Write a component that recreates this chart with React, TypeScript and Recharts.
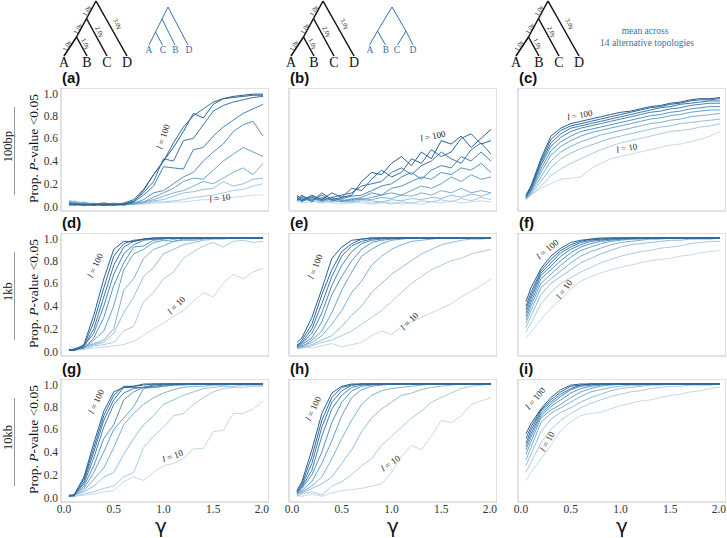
import { LineChart, Line, XAxis, YAxis, ReferenceArea } from "recharts";

// gamma grid shared by every panel
const gamma = [0.05, 0.1, 0.2, 0.3, 0.4, 0.5, 0.6, 0.7, 0.8, 0.9, 1.0, 1.1, 1.2, 1.3, 1.4, 1.5, 1.6, 1.7, 1.8, 1.9, 2.0];
const lengths = [10, 20, 30, 40, 50, 60, 70, 80, 90, 100];
const colors = ["#c3dbee", "#abcce5", "#94bedc", "#7eb0d3", "#69a1ca", "#5692c0", "#4683b6", "#3a76aa", "#316b9e", "#2a5f90"];
const yTicks = [0, 0.2, 0.4, 0.6, 0.8, 1.0];
const xTicks = [0, 0.5, 1.0, 1.5, 2.0];
const rowNames = ["100bp", "1kb", "10kb"];

// rows below: l = 10 ... l = 100
const bp100Fixed = [
  [0.06, 0.04, 0.03, 0.02, 0.02, 0.01, 0.01, 0.02, 0.02, 0.03, 0.03, 0.04, 0.04, 0.05, 0.06, 0.06, 0.07, 0.08, 0.09, 0.10, 0.10],
  [0.03, 0.05, 0.03, 0.02, 0.02, 0.01, 0.02, 0.02, 0.03, 0.04, 0.04, 0.05, 0.06, 0.08, 0.09, 0.10, 0.12, 0.14, 0.15, 0.18, 0.20],
  [0.04, 0.02, 0.04, 0.02, 0.01, 0.01, 0.02, 0.02, 0.03, 0.05, 0.06, 0.09, 0.12, 0.13, 0.15, 0.16, 0.22, 0.18, 0.20, 0.24, 0.25],
  [0.05, 0.03, 0.02, 0.03, 0.01, 0.02, 0.02, 0.03, 0.04, 0.06, 0.09, 0.12, 0.14, 0.18, 0.22, 0.20, 0.25, 0.30, 0.34, 0.28, 0.38],
  [0.03, 0.04, 0.02, 0.01, 0.02, 0.03, 0.02, 0.02, 0.04, 0.08, 0.12, 0.16, 0.22, 0.25, 0.24, 0.32, 0.40, 0.46, 0.52, 0.48, 0.44],
  [0.04, 0.02, 0.03, 0.02, 0.01, 0.02, 0.01, 0.03, 0.06, 0.12, 0.14, 0.20, 0.26, 0.30, 0.40, 0.48, 0.55, 0.66, 0.72, 0.75, 0.62],
  [0.02, 0.03, 0.02, 0.01, 0.03, 0.01, 0.02, 0.04, 0.10, 0.18, 0.35, 0.34, 0.33, 0.50, 0.52, 0.62, 0.70, 0.76, 0.82, 0.86, 0.90],
  [0.03, 0.02, 0.01, 0.02, 0.03, 0.02, 0.02, 0.05, 0.12, 0.22, 0.42, 0.40, 0.58, 0.60, 0.72, 0.84, 0.89, 0.92, 0.94, 0.96, 0.97],
  [0.02, 0.01, 0.02, 0.01, 0.02, 0.01, 0.03, 0.06, 0.15, 0.28, 0.40, 0.56, 0.70, 0.80, 0.86, 0.92, 0.95, 0.96, 0.97, 0.98, 0.98],
  [0.01, 0.02, 0.01, 0.02, 0.01, 0.02, 0.02, 0.04, 0.14, 0.28, 0.40, 0.52, 0.66, 0.82, 0.78, 0.90, 0.95, 0.97, 0.98, 0.99, 0.99],
];
const bp100Alt = [
  [0.05, 0.03, 0.04, 0.05, 0.03, 0.02, 0.04, 0.03, 0.02, 0.03, 0.04, 0.02, 0.03, 0.02, 0.04, 0.03, 0.05, 0.03, 0.04, 0.05, 0.04],
  [0.04, 0.06, 0.05, 0.03, 0.05, 0.04, 0.03, 0.05, 0.03, 0.04, 0.02, 0.04, 0.03, 0.05, 0.04, 0.06, 0.04, 0.07, 0.05, 0.08, 0.06],
  [0.08, 0.05, 0.06, 0.07, 0.04, 0.05, 0.04, 0.06, 0.05, 0.04, 0.06, 0.05, 0.07, 0.06, 0.08, 0.07, 0.10, 0.08, 0.11, 0.09, 0.12],
  [0.06, 0.09, 0.07, 0.04, 0.07, 0.06, 0.05, 0.07, 0.06, 0.08, 0.07, 0.10, 0.09, 0.12, 0.10, 0.14, 0.12, 0.16, 0.12, 0.14, 0.12],
  [0.09, 0.07, 0.05, 0.08, 0.06, 0.04, 0.07, 0.06, 0.08, 0.10, 0.12, 0.10, 0.14, 0.18, 0.16, 0.20, 0.26, 0.22, 0.28, 0.24, 0.26],
  [0.07, 0.04, 0.09, 0.06, 0.08, 0.05, 0.06, 0.08, 0.12, 0.10, 0.16, 0.18, 0.22, 0.26, 0.24, 0.30, 0.28, 0.34, 0.32, 0.38, 0.30],
  [0.05, 0.08, 0.06, 0.10, 0.05, 0.07, 0.09, 0.10, 0.14, 0.18, 0.20, 0.26, 0.30, 0.24, 0.32, 0.36, 0.34, 0.44, 0.40, 0.48, 0.40],
  [0.10, 0.06, 0.08, 0.05, 0.08, 0.10, 0.12, 0.18, 0.20, 0.22, 0.30, 0.34, 0.28, 0.36, 0.40, 0.48, 0.42, 0.38, 0.50, 0.56, 0.46],
  [0.06, 0.10, 0.04, 0.12, 0.06, 0.08, 0.16, 0.14, 0.24, 0.32, 0.26, 0.30, 0.42, 0.38, 0.50, 0.44, 0.48, 0.60, 0.64, 0.55, 0.58],
  [0.08, 0.05, 0.10, 0.06, 0.12, 0.08, 0.10, 0.22, 0.30, 0.28, 0.38, 0.44, 0.36, 0.48, 0.42, 0.58, 0.55, 0.62, 0.52, 0.60, 0.68],
];
const bp100Mean = [
  [0.07, 0.10, 0.16, 0.20, 0.24, 0.25, 0.26, 0.33, 0.38, 0.42, 0.44, 0.46, 0.48, 0.50, 0.52, 0.54, 0.55, 0.57, 0.59, 0.62, 0.66],
  [0.06, 0.10, 0.18, 0.27, 0.33, 0.38, 0.42, 0.46, 0.50, 0.53, 0.56, 0.58, 0.60, 0.62, 0.64, 0.66, 0.67, 0.68, 0.70, 0.71, 0.73],
  [0.07, 0.11, 0.22, 0.34, 0.42, 0.47, 0.51, 0.54, 0.57, 0.60, 0.62, 0.64, 0.66, 0.68, 0.70, 0.71, 0.73, 0.74, 0.75, 0.76, 0.77],
  [0.07, 0.12, 0.26, 0.40, 0.48, 0.53, 0.57, 0.60, 0.63, 0.65, 0.67, 0.69, 0.71, 0.73, 0.74, 0.76, 0.77, 0.79, 0.80, 0.81, 0.82],
  [0.07, 0.13, 0.30, 0.45, 0.53, 0.58, 0.62, 0.65, 0.67, 0.69, 0.71, 0.73, 0.75, 0.77, 0.78, 0.80, 0.81, 0.83, 0.84, 0.85, 0.85],
  [0.08, 0.14, 0.33, 0.49, 0.57, 0.62, 0.66, 0.68, 0.70, 0.72, 0.74, 0.76, 0.78, 0.80, 0.81, 0.83, 0.84, 0.86, 0.87, 0.88, 0.88],
  [0.08, 0.15, 0.36, 0.53, 0.61, 0.66, 0.69, 0.71, 0.73, 0.75, 0.77, 0.79, 0.81, 0.83, 0.84, 0.86, 0.87, 0.89, 0.90, 0.91, 0.91],
  [0.09, 0.16, 0.38, 0.56, 0.64, 0.69, 0.71, 0.73, 0.75, 0.77, 0.79, 0.81, 0.83, 0.85, 0.87, 0.88, 0.90, 0.91, 0.92, 0.93, 0.93],
  [0.09, 0.17, 0.40, 0.59, 0.67, 0.71, 0.73, 0.75, 0.77, 0.79, 0.81, 0.83, 0.85, 0.87, 0.88, 0.90, 0.91, 0.93, 0.94, 0.94, 0.95],
  [0.10, 0.18, 0.42, 0.62, 0.69, 0.73, 0.75, 0.77, 0.79, 0.81, 0.83, 0.84, 0.86, 0.88, 0.89, 0.91, 0.92, 0.94, 0.95, 0.95, 0.96],
];
const kb1Fixed = [
  [0.05, 0.03, 0.02, 0.03, 0.04, 0.05, 0.06, 0.09, 0.14, 0.20, 0.25, 0.31, 0.36, 0.44, 0.52, 0.48, 0.60, 0.68, 0.64, 0.70, 0.73],
  [0.02, 0.01, 0.02, 0.05, 0.06, 0.08, 0.18, 0.22, 0.44, 0.52, 0.64, 0.70, 0.82, 0.88, 0.93, 0.96, 0.92, 0.97, 0.98, 0.96, 0.97],
  [0.01, 0.02, 0.03, 0.06, 0.08, 0.16, 0.34, 0.48, 0.66, 0.74, 0.86, 0.90, 0.94, 0.96, 0.98, 0.99, 0.99, 1.00, 1.00, 1.00, 1.00],
  [0.02, 0.01, 0.04, 0.07, 0.10, 0.20, 0.54, 0.64, 0.82, 0.90, 0.93, 0.97, 0.98, 0.98, 0.99, 1.00, 1.00, 1.00, 1.00, 1.00, 1.00],
  [0.01, 0.02, 0.03, 0.10, 0.18, 0.40, 0.72, 0.86, 0.90, 0.96, 0.98, 0.97, 0.99, 0.99, 1.00, 1.00, 1.00, 1.00, 1.00, 1.00, 1.00],
  [0.02, 0.01, 0.03, 0.12, 0.30, 0.58, 0.78, 0.92, 0.93, 0.98, 0.99, 1.00, 1.00, 1.00, 1.00, 1.00, 1.00, 1.00, 1.00, 1.00, 1.00],
  [0.01, 0.02, 0.05, 0.16, 0.40, 0.68, 0.86, 0.94, 0.98, 0.99, 1.00, 0.99, 1.00, 1.00, 1.00, 1.00, 1.00, 1.00, 1.00, 1.00, 1.00],
  [0.02, 0.01, 0.04, 0.20, 0.48, 0.76, 0.92, 0.97, 0.99, 0.99, 1.00, 1.00, 1.00, 1.00, 1.00, 1.00, 1.00, 1.00, 1.00, 1.00, 1.00],
  [0.01, 0.02, 0.05, 0.26, 0.56, 0.84, 0.95, 0.98, 0.99, 1.00, 1.00, 1.00, 1.00, 1.00, 1.00, 1.00, 1.00, 1.00, 1.00, 1.00, 1.00],
  [0.01, 0.01, 0.06, 0.32, 0.64, 0.90, 0.97, 0.97, 0.99, 1.00, 1.00, 1.00, 1.00, 1.00, 1.00, 1.00, 1.00, 1.00, 1.00, 1.00, 1.00],
];
const kb1Alt = [
  [0.06, 0.04, 0.03, 0.05, 0.07, 0.04, 0.06, 0.08, 0.14, 0.18, 0.15, 0.22, 0.26, 0.30, 0.34, 0.38, 0.42, 0.48, 0.53, 0.58, 0.64],
  [0.02, 0.03, 0.05, 0.08, 0.10, 0.14, 0.18, 0.24, 0.30, 0.36, 0.44, 0.52, 0.60, 0.66, 0.72, 0.76, 0.80, 0.82, 0.86, 0.88, 0.90],
  [0.03, 0.04, 0.06, 0.10, 0.14, 0.22, 0.32, 0.40, 0.52, 0.60, 0.68, 0.74, 0.80, 0.86, 0.90, 0.94, 0.96, 0.98, 0.99, 0.99, 1.00],
  [0.04, 0.05, 0.08, 0.14, 0.24, 0.36, 0.52, 0.62, 0.76, 0.84, 0.90, 0.94, 0.97, 0.98, 0.99, 1.00, 1.00, 1.00, 1.00, 1.00, 1.00],
  [0.05, 0.04, 0.10, 0.18, 0.34, 0.54, 0.70, 0.84, 0.90, 0.95, 0.98, 0.99, 1.00, 1.00, 1.00, 1.00, 1.00, 1.00, 1.00, 1.00, 1.00],
  [0.03, 0.06, 0.12, 0.26, 0.50, 0.66, 0.80, 0.90, 0.96, 0.98, 0.99, 1.00, 1.00, 1.00, 1.00, 1.00, 1.00, 1.00, 1.00, 1.00, 1.00],
  [0.05, 0.07, 0.16, 0.34, 0.58, 0.76, 0.88, 0.95, 0.98, 0.99, 1.00, 1.00, 1.00, 1.00, 1.00, 1.00, 1.00, 1.00, 1.00, 1.00, 1.00],
  [0.06, 0.08, 0.20, 0.42, 0.66, 0.84, 0.93, 0.97, 0.99, 1.00, 1.00, 1.00, 1.00, 1.00, 1.00, 1.00, 1.00, 1.00, 1.00, 1.00, 1.00],
  [0.04, 0.10, 0.24, 0.50, 0.72, 0.88, 0.95, 0.99, 1.00, 1.00, 1.00, 1.00, 1.00, 1.00, 1.00, 1.00, 1.00, 1.00, 1.00, 1.00, 1.00],
  [0.08, 0.12, 0.30, 0.55, 0.82, 0.92, 0.98, 0.99, 1.00, 1.00, 1.00, 1.00, 1.00, 1.00, 1.00, 1.00, 1.00, 1.00, 1.00, 1.00, 1.00],
];
const kb1Mean = [
  [0.12, 0.17, 0.28, 0.38, 0.46, 0.55, 0.62, 0.66, 0.69, 0.72, 0.74, 0.76, 0.78, 0.80, 0.81, 0.82, 0.84, 0.85, 0.87, 0.88, 0.89],
  [0.17, 0.25, 0.42, 0.52, 0.60, 0.65, 0.70, 0.74, 0.78, 0.81, 0.84, 0.86, 0.88, 0.89, 0.91, 0.92, 0.93, 0.95, 0.96, 0.97, 0.97],
  [0.21, 0.31, 0.50, 0.60, 0.66, 0.72, 0.78, 0.82, 0.86, 0.89, 0.92, 0.94, 0.95, 0.96, 0.97, 0.98, 0.98, 0.99, 0.99, 0.99, 1.00],
  [0.25, 0.36, 0.56, 0.64, 0.71, 0.78, 0.84, 0.88, 0.91, 0.94, 0.96, 0.97, 0.98, 0.99, 0.99, 1.00, 1.00, 1.00, 1.00, 1.00, 1.00],
  [0.28, 0.40, 0.60, 0.68, 0.76, 0.83, 0.89, 0.92, 0.95, 0.97, 0.98, 0.99, 0.99, 1.00, 1.00, 1.00, 1.00, 1.00, 1.00, 1.00, 1.00],
  [0.31, 0.43, 0.64, 0.72, 0.80, 0.87, 0.92, 0.95, 0.97, 0.98, 0.99, 0.99, 1.00, 1.00, 1.00, 1.00, 1.00, 1.00, 1.00, 1.00, 1.00],
  [0.34, 0.46, 0.67, 0.75, 0.84, 0.90, 0.94, 0.97, 0.98, 0.99, 0.99, 1.00, 1.00, 1.00, 1.00, 1.00, 1.00, 1.00, 1.00, 1.00, 1.00],
  [0.37, 0.49, 0.69, 0.78, 0.87, 0.92, 0.96, 0.98, 0.99, 0.99, 1.00, 1.00, 1.00, 1.00, 1.00, 1.00, 1.00, 1.00, 1.00, 1.00, 1.00],
  [0.40, 0.52, 0.71, 0.81, 0.89, 0.94, 0.97, 0.99, 0.99, 1.00, 1.00, 1.00, 1.00, 1.00, 1.00, 1.00, 1.00, 1.00, 1.00, 1.00, 1.00],
  [0.44, 0.56, 0.73, 0.84, 0.91, 0.96, 0.98, 0.99, 1.00, 1.00, 1.00, 1.00, 1.00, 1.00, 1.00, 1.00, 1.00, 1.00, 1.00, 1.00, 1.00],
];
const kb10Fixed = [
  [0.02, 0.01, 0.02, 0.03, 0.05, 0.06, 0.14, 0.18, 0.15, 0.22, 0.28, 0.30, 0.34, 0.43, 0.43, 0.58, 0.59, 0.74, 0.74, 0.78, 0.85],
  [0.02, 0.01, 0.03, 0.05, 0.08, 0.10, 0.18, 0.22, 0.44, 0.54, 0.62, 0.72, 0.74, 0.82, 0.88, 0.93, 0.96, 0.97, 0.97, 0.98, 0.98],
  [0.01, 0.02, 0.05, 0.10, 0.18, 0.22, 0.38, 0.52, 0.64, 0.72, 0.82, 0.86, 0.90, 0.93, 0.96, 0.97, 0.98, 0.98, 0.99, 0.99, 0.99],
  [0.02, 0.02, 0.06, 0.16, 0.26, 0.44, 0.64, 0.74, 0.82, 0.88, 0.92, 0.95, 0.97, 0.98, 0.98, 0.99, 0.99, 1.00, 1.00, 1.00, 1.00],
  [0.01, 0.03, 0.08, 0.22, 0.40, 0.60, 0.70, 0.80, 0.96, 0.97, 0.98, 0.99, 0.99, 1.00, 1.00, 1.00, 1.00, 1.00, 1.00, 1.00, 1.00],
  [0.02, 0.02, 0.10, 0.28, 0.52, 0.64, 0.86, 0.93, 0.97, 0.97, 0.98, 0.99, 1.00, 1.00, 1.00, 1.00, 1.00, 1.00, 1.00, 1.00, 1.00],
  [0.01, 0.02, 0.12, 0.35, 0.62, 0.82, 0.92, 0.96, 0.97, 0.98, 0.99, 1.00, 1.00, 1.00, 1.00, 1.00, 1.00, 1.00, 1.00, 1.00, 1.00],
  [0.02, 0.01, 0.14, 0.40, 0.68, 0.86, 0.97, 0.97, 0.97, 0.99, 1.00, 1.00, 1.00, 1.00, 1.00, 1.00, 1.00, 1.00, 1.00, 1.00, 1.00],
  [0.01, 0.02, 0.16, 0.44, 0.72, 0.90, 0.98, 0.98, 0.99, 1.00, 1.00, 1.00, 1.00, 1.00, 1.00, 1.00, 1.00, 1.00, 1.00, 1.00, 1.00],
  [0.01, 0.02, 0.18, 0.48, 0.76, 0.93, 0.97, 0.98, 1.00, 1.00, 1.00, 1.00, 1.00, 1.00, 1.00, 1.00, 1.00, 1.00, 1.00, 1.00, 1.00],
];
const kb10Alt = [
  [0.02, 0.01, 0.03, 0.01, 0.04, 0.06, 0.07, 0.08, 0.10, 0.12, 0.22, 0.36, 0.46, 0.42, 0.54, 0.68, 0.66, 0.72, 0.82, 0.85, 0.88],
  [0.01, 0.03, 0.05, 0.02, 0.10, 0.14, 0.20, 0.28, 0.34, 0.46, 0.54, 0.62, 0.70, 0.76, 0.84, 0.88, 0.92, 0.96, 0.98, 0.99, 1.00],
  [0.03, 0.04, 0.08, 0.12, 0.18, 0.30, 0.42, 0.58, 0.70, 0.78, 0.84, 0.90, 0.92, 0.95, 0.97, 0.98, 0.99, 1.00, 1.00, 1.00, 1.00],
  [0.02, 0.05, 0.10, 0.18, 0.34, 0.52, 0.68, 0.82, 0.90, 0.94, 0.96, 0.97, 0.98, 0.99, 1.00, 1.00, 1.00, 1.00, 1.00, 1.00, 1.00],
  [0.04, 0.06, 0.14, 0.30, 0.50, 0.72, 0.88, 0.95, 0.98, 0.99, 1.00, 1.00, 1.00, 1.00, 1.00, 1.00, 1.00, 1.00, 1.00, 1.00, 1.00],
  [0.03, 0.08, 0.20, 0.40, 0.66, 0.84, 0.94, 0.98, 0.99, 1.00, 1.00, 1.00, 1.00, 1.00, 1.00, 1.00, 1.00, 1.00, 1.00, 1.00, 1.00],
  [0.05, 0.09, 0.24, 0.54, 0.78, 0.90, 0.97, 0.99, 1.00, 1.00, 1.00, 1.00, 1.00, 1.00, 1.00, 1.00, 1.00, 1.00, 1.00, 1.00, 1.00],
  [0.04, 0.10, 0.30, 0.62, 0.84, 0.94, 0.99, 1.00, 1.00, 1.00, 1.00, 1.00, 1.00, 1.00, 1.00, 1.00, 1.00, 1.00, 1.00, 1.00, 1.00],
  [0.05, 0.12, 0.36, 0.68, 0.88, 0.97, 0.99, 1.00, 1.00, 1.00, 1.00, 1.00, 1.00, 1.00, 1.00, 1.00, 1.00, 1.00, 1.00, 1.00, 1.00],
  [0.06, 0.14, 0.42, 0.74, 0.92, 0.98, 1.00, 1.00, 1.00, 1.00, 1.00, 1.00, 1.00, 1.00, 1.00, 1.00, 1.00, 1.00, 1.00, 1.00, 1.00],
];
const kb10Mean = [
  [0.15, 0.22, 0.34, 0.46, 0.59, 0.67, 0.72, 0.74, 0.75, 0.78, 0.81, 0.83, 0.85, 0.86, 0.88, 0.90, 0.91, 0.93, 0.94, 0.96, 0.97],
  [0.22, 0.31, 0.48, 0.60, 0.68, 0.74, 0.79, 0.83, 0.86, 0.89, 0.91, 0.93, 0.94, 0.96, 0.97, 0.98, 0.98, 0.99, 0.99, 0.99, 1.00],
  [0.28, 0.38, 0.58, 0.69, 0.75, 0.79, 0.84, 0.88, 0.91, 0.94, 0.96, 0.97, 0.98, 0.99, 0.99, 1.00, 1.00, 1.00, 1.00, 1.00, 1.00],
  [0.33, 0.44, 0.66, 0.74, 0.79, 0.84, 0.89, 0.93, 0.95, 0.97, 0.98, 0.99, 0.99, 1.00, 1.00, 1.00, 1.00, 1.00, 1.00, 1.00, 1.00],
  [0.38, 0.49, 0.70, 0.77, 0.82, 0.88, 0.93, 0.96, 0.98, 0.99, 1.00, 1.00, 1.00, 1.00, 1.00, 1.00, 1.00, 1.00, 1.00, 1.00, 1.00],
  [0.42, 0.53, 0.72, 0.80, 0.86, 0.92, 0.96, 0.98, 0.99, 1.00, 1.00, 1.00, 1.00, 1.00, 1.00, 1.00, 1.00, 1.00, 1.00, 1.00, 1.00],
  [0.45, 0.56, 0.74, 0.82, 0.89, 0.95, 0.98, 0.99, 1.00, 1.00, 1.00, 1.00, 1.00, 1.00, 1.00, 1.00, 1.00, 1.00, 1.00, 1.00, 1.00],
  [0.48, 0.59, 0.76, 0.84, 0.91, 0.96, 0.99, 1.00, 1.00, 1.00, 1.00, 1.00, 1.00, 1.00, 1.00, 1.00, 1.00, 1.00, 1.00, 1.00, 1.00],
  [0.52, 0.62, 0.77, 0.86, 0.93, 0.98, 0.99, 1.00, 1.00, 1.00, 1.00, 1.00, 1.00, 1.00, 1.00, 1.00, 1.00, 1.00, 1.00, 1.00, 1.00],
  [0.56, 0.65, 0.78, 0.88, 0.95, 0.99, 1.00, 1.00, 1.00, 1.00, 1.00, 1.00, 1.00, 1.00, 1.00, 1.00, 1.00, 1.00, 1.00, 1.00, 1.00],
];

const panels = [
  { tag: "(a)", series: bp100Fixed, row: 0, col: 0 },
  { tag: "(b)", series: bp100Alt, row: 0, col: 1 },
  { tag: "(c)", series: bp100Mean, row: 0, col: 2 },
  { tag: "(d)", series: kb1Fixed, row: 1, col: 0 },
  { tag: "(e)", series: kb1Alt, row: 1, col: 1 },
  { tag: "(f)", series: kb1Mean, row: 1, col: 2 },
  { tag: "(g)", series: kb10Fixed, row: 2, col: 0 },
  { tag: "(h)", series: kb10Alt, row: 2, col: 1 },
  { tag: "(i)", series: kb10Mean, row: 2, col: 2 },
];

// "l = ..." callouts: pixel centre + rotation
const callouts = [
  { n: "100", x: 164, y: 137, r: -72 },
  { n: "10", x: 220, y: 199, r: -8 },
  { n: "100", x: 433, y: 137, r: -12 },
  { n: "100", x: 580, y: 116, r: -10 },
  { n: "10", x: 627, y: 149, r: -10 },
  { n: "100", x: 96, y: 266, r: -65 },
  { n: "10", x: 177, y: 306, r: -45 },
  { n: "100", x: 316, y: 267, r: -68 },
  { n: "10", x: 410, y: 322, r: -45 },
  { n: "100", x: 548, y: 250, r: -40 },
  { n: "10", x: 565, y: 290, r: -55 },
  { n: "100", x: 97, y: 402, r: -65 },
  { n: "10", x: 173, y: 457, r: -20 },
  { n: "100", x: 314, y: 409, r: -65 },
  { n: "10", x: 391, y: 464, r: -35 },
  { n: "100", x: 536, y: 399, r: -50 },
  { n: "10", x: 548, y: 442, r: -60 },
];

const colLeft = [61, 289, 518];
const rowTop = [88, 233, 379];
const boxW = 208;
const boxH = 123;
const axisW = 45;
const axisH = 25;
const xDomain: [number, number] = [-0.03, 2.06];
const yDomain: [number, number] = [-0.04, 1.044];

const serif = "Liberation Serif, DejaVu Serif, serif";
const sans = "Liberation Sans, Arial, sans-serif";
const blue = "#3b6fa6";

function toRows(series: number[][]) {
  return gamma.map((g, i) => {
    const row: Record<string, number> = { g };
    series.forEach((s, k) => {
      row[`l${lengths[k]}`] = s[i];
    });
    return row;
  });
}

function Panel({ series, row, col }: { series: number[][]; row: number; col: number }) {
  const data = toRows(series);
  const tickStyle = { fontSize: 11.5, fill: "#333", fontFamily: serif };
  return (
    <div style={{ position: "absolute", left: colLeft[col] - axisW, top: rowTop[row] }}>
      <LineChart width={boxW + axisW} height={boxH + axisH} data={data} margin={{ top: 0, right: 0, bottom: 0, left: 0 }}>
        <XAxis
          dataKey="g"
          type="number"
          domain={xDomain}
          ticks={xTicks}
          allowDataOverflow
          height={axisH}
          axisLine={false}
          tickLine={false}
          tickSize={1}
          tickMargin={2}
          tick={row === 2 ? tickStyle : false}
          tickFormatter={(v: number) => v.toFixed(1)}
        />
        <YAxis
          type="number"
          domain={yDomain}
          ticks={yTicks}
          allowDataOverflow
          width={axisW}
          axisLine={false}
          tickLine={false}
          tickSize={1}
          tickMargin={2}
          tick={col === 0 ? tickStyle : false}
          tickFormatter={(v: number) => v.toFixed(1)}
        />
        <ReferenceArea x1={xDomain[0]} x2={xDomain[1]} y1={yDomain[0]} y2={yDomain[1]} fill="#ffffff" fillOpacity={0} stroke="#c4c4c4" strokeWidth={1} strokeOpacity={1} />
        {lengths.map((l, k) => (
          <Line
            key={l}
            type="linear"
            dataKey={`l${l}`}
            stroke={colors[k]}
            strokeWidth={1}
            dot={false}
            activeDot={false}
            isAnimationActive={false}
          />
        ))}
      </LineChart>
    </div>
  );
}

function BigTree({ dx }: { dx: number }) {
  const root = [96 + dx, 1];
  const n1 = [86.5 + dx, 18.5];
  const n2 = [76.5 + dx, 37];
  const leaves = [64 + dx, 87 + dx, 107 + dx, 127 + dx];
  const leafY = 56;
  const edges = [
    [root, [leaves[3], leafY]],
    [root, n1],
    [n1, [leaves[2], leafY]],
    [n1, n2],
    [n2, [leaves[0], leafY]],
    [n2, [leaves[1], leafY]],
  ];
  const branchLabels = [
    { t: "1.0γ", x: 87.5, y: 11, r: -60 },
    { t: "1.0γ", x: 78.5, y: 29, r: -60 },
    { t: "1.0γ", x: 67.5, y: 46, r: -60 },
    { t: "1.0γ", x: 85, y: 44, r: 62 },
    { t: "2.0γ", x: 99, y: 32, r: 62 },
    { t: "3.0γ", x: 117, y: 24, r: 60 },
  ];
  return (
    <g>
      {edges.map((e, i) => (
        <line key={i} x1={e[0][0]} y1={e[0][1]} x2={e[1][0]} y2={e[1][1]} stroke="#111" strokeWidth={1.5} />
      ))}
      {branchLabels.map((b, i) => (
        <text
          key={i}
          transform={`translate(${b.x + dx},${b.y}) rotate(${b.r})`}
          textAnchor="middle"
          dominantBaseline="middle"
          fontSize={6.5}
          fontFamily={serif}
          fill="#222"
        >
          {b.t}
        </text>
      ))}
      {["A", "B", "C", "D"].map((s, i) => (
        <text key={s} x={leaves[i]} y={67} textAnchor="middle" fontSize={14} fontFamily={serif} fill="#111">
          {s}
        </text>
      ))}
    </g>
  );
}

function BlueTreeACBD() {
  const edges = [
    [168, 7, 188, 45],
    [168, 7, 162, 19],
    [162, 19, 175, 45],
    [162, 19, 155.5, 32],
    [155.5, 32, 149, 45],
    [155.5, 32, 162.5, 45],
  ];
  const tips = [
    ["A", 149],
    ["C", 163],
    ["B", 175.5],
    ["D", 189],
  ];
  return (
    <g>
      {edges.map((e, i) => (
        <line key={i} x1={e[0]} y1={e[1]} x2={e[2]} y2={e[3]} stroke={blue} strokeWidth={1} />
      ))}
      {tips.map(([s, x]) => (
        <text key={s as string} x={x as number} y={53} textAnchor="middle" fontSize={9.5} fontFamily={serif} fill={blue}>
          {s}
        </text>
      ))}
    </g>
  );
}

function BlueTreeABCD() {
  const edges = [
    [392, 7, 377.5, 31],
    [392, 7, 406, 31],
    [377.5, 31, 369.5, 45],
    [377.5, 31, 385.5, 45],
    [406, 31, 397.5, 45],
    [406, 31, 413, 45],
  ];
  const tips = [
    ["A", 370],
    ["B", 386],
    ["C", 397],
    ["D", 413],
  ];
  return (
    <g>
      {edges.map((e, i) => (
        <line key={i} x1={e[0]} y1={e[1]} x2={e[2]} y2={e[3]} stroke={blue} strokeWidth={1} />
      ))}
      {tips.map(([s, x]) => (
        <text key={s as string} x={x as number} y={53} textAnchor="middle" fontSize={9.5} fontFamily={serif} fill={blue}>
          {s}
        </text>
      ))}
    </g>
  );
}

function Overlay() {
  return (
    <svg width={727} height={538} style={{ position: "absolute", left: 0, top: 0, pointerEvents: "none" }}>
      <BigTree dx={0} />
      <BigTree dx={227} />
      <BigTree dx={452} />
      <BlueTreeACBD />
      <BlueTreeABCD />
      <text x={645} y={34} textAnchor="middle" fontSize={9.5} fontFamily={serif} fill={blue}>
        mean across
      </text>
      <text x={647} y={46} textAnchor="middle" fontSize={9.5} fontFamily={serif} fill={blue}>
        14 alternative topologies
      </text>

      {panels.map((p) => (
        <text key={p.tag} x={colLeft[p.col] + 1} y={rowTop[p.row] - 5} fontSize={15} fontWeight="bold" fontFamily={sans} fill="#111">
          {p.tag}
        </text>
      ))}

      {rowNames.map((name, r) => {
        const cy = rowTop[r] + boxH / 2 - 3;
        return (
          <g key={name}>
            <text transform={`translate(11.5,${cy}) rotate(-90)`} textAnchor="middle" fontSize={12.5} fontFamily={serif} fill="#111">
              {name}
            </text>
            <line x1={14.5} y1={rowTop[r] + 19} x2={14.5} y2={rowTop[r] + boxH - 16} stroke="#9a9a9a" strokeWidth={1} />
            <text transform={`translate(38,${rowTop[r] + boxH / 2 - 1}) rotate(-90)`} textAnchor="middle" fontSize={13.5} fontFamily={serif} fill="#111">
              Prop. <tspan fontStyle="italic">P</tspan>-value &lt;0.05
            </text>
          </g>
        );
      })}

      {colLeft.map((x, c) => (
        <text key={c} x={x + boxW / 2 - (c === 0 ? 4 : 0)} y={533} textAnchor="middle" fontSize={20} fontFamily="DejaVu Sans, sans-serif" fill="#111">
          γ
        </text>
      ))}

      {callouts.map((c, i) => (
        <text
          key={i}
          transform={`translate(${c.x},${c.y}) rotate(${c.r})`}
          textAnchor="middle"
          dominantBaseline="middle"
          fontSize={9}
          fontFamily={serif}
          fill="#222"
        >
          <tspan fontStyle="italic">l</tspan> = {c.n}
        </text>
      ))}
    </svg>
  );
}

export default function App() {
  return (
    <div style={{ position: "absolute", left: 0, top: 0, width: 727, height: 538, background: "#fff", overflow: "hidden" }}>
      {panels.map((p) => (
        <Panel key={p.tag} series={p.series} row={p.row} col={p.col} />
      ))}
      <Overlay />
    </div>
  );
}
